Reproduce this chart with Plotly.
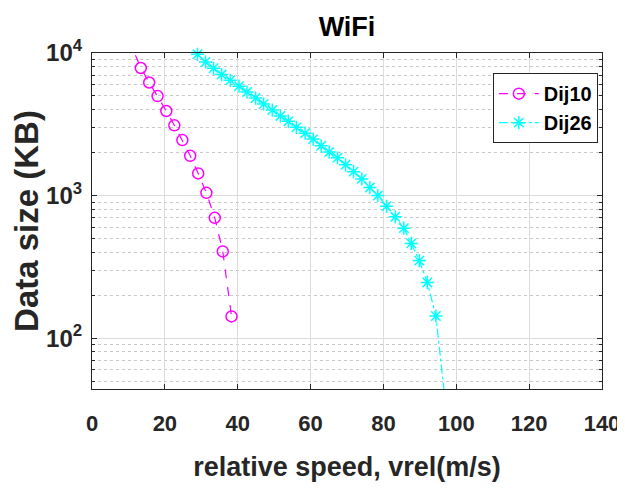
import plotly.graph_objects as go
import numpy as np

# Dij10 (magenta, dashed, circles)
dij10_speed = [10.0, 13.4, 15.7, 18.0, 20.4, 22.6, 24.8, 26.95, 29.15, 31.4, 33.7, 35.9, 38.3]
dij10_size = [12600, 7850, 6210, 4990, 3920, 3110, 2450, 1900, 1430, 1045, 698, 406, 142]

# Dij26 (cyan, dash-dot, stars)
dij26_speed = [28.96, 31.16, 33.36, 35.56, 37.95, 40.35, 42.55, 44.91, 47.11, 49.5,
               51.7, 53.9, 56.1, 58.5, 60.7, 62.9, 65.1, 67.4, 69.6, 71.8,
               74.06, 76.27, 78.46, 80.85, 83.25, 85.6, 87.65, 89.85, 92.05, 94.4, 96.6]
dij26_size = [9790, 8650, 7820, 7060, 6440, 5850, 5320, 4830, 4390, 3980,
              3620, 3320, 3010, 2740, 2490, 2235, 2020, 1842, 1644, 1472,
              1309, 1138, 1000, 842, 710, 591, 462, 350, 246, 143, 44]

x_ticks = [0, 20, 40, 60, 80, 100, 120, 140]
y_ticks = [100, 1000, 10000]
y_ticktext = ["10<sup>2</sup>", "10<sup>3</sup>", "10<sup>4</sup>"]

FONT = "Liberation Sans, Arial, sans-serif"

fig = go.Figure()
fig.add_trace(go.Scatter(
    x=dij10_speed, y=dij10_size, name="<b>Dij10</b>", mode="lines+markers",
    line=dict(color="#FF00FF", width=1.2, dash="dash"),
    marker=dict(symbol="circle-open", size=11, color="#FF00FF", line=dict(width=1.5)),
    cliponaxis=True,
))
fig.add_trace(go.Scatter(
    x=dij26_speed, y=dij26_size, name="<b>Dij26</b>", mode="lines+markers",
    line=dict(color="#00FFFF", width=1.2, dash="dashdot"),
    marker=dict(symbol="asterisk-open", size=11, color="#00FFFF", line=dict(width=1.5, color="#00FFFF")),
    cliponaxis=False,
))

fig.update_layout(
    width=625, height=490,
    margin=dict(l=84, r=31, t=45, b=109, autoexpand=False),
    paper_bgcolor="white", plot_bgcolor="white",
    font=dict(family=FONT, size=22, color="#262626"),
    title=dict(text="<b>WiFi</b>", x=0.5424, xanchor="center", y=0.962, yanchor="middle",
               font=dict(family=FONT, size=27, color="black")),
    showlegend=True,
    legend=dict(x=0.786, y=0.94, xanchor="left", yanchor="top",
                bgcolor="white", bordercolor="#262626", borderwidth=1,
                font=dict(family=FONT, size=20, color="black"),
                itemwidth=40, tracegroupgap=0),
)
fig.update_xaxes(
    range=[0, 140], tickvals=x_ticks, ticktext=[f"<b>{v}</b>" for v in x_ticks],
    showline=True, linecolor="#262626", linewidth=1.2, mirror="ticks",
    ticks="inside", ticklen=5, tickcolor="#262626", ticklabelstandoff=14,
    showgrid=True, gridcolor="#DCDCDC", gridwidth=1, zeroline=False, automargin=False,
    title=dict(text="<b>relative speed, vrel(m/s)</b>", font=dict(family=FONT, size=27, color="#262626"), standoff=22),
    tickfont=dict(family=FONT, size=22, color="#262626"),
)
fig.update_yaxes(
    type="log", range=[np.log10(44), 4], tickvals=y_ticks,
    ticktext=[f"<b>{t}</b>" for t in y_ticktext],
    showline=True, linecolor="#262626", linewidth=1.2, mirror="ticks",
    ticks="inside", ticklen=5, tickcolor="#262626", ticklabelstandoff=4,
    showgrid=True, gridcolor="#DCDCDC", gridwidth=1, zeroline=False, automargin=False,
    minor=dict(dtick="D1", ticks="inside", ticklen=3, tickcolor="#262626",
               showgrid=True, gridcolor="#C8C8C8", griddash="dot", gridwidth=1),
    title=dict(text="<b>Data size (KB)</b>", font=dict(family=FONT, size=33, color="#262626"), standoff=0),
    tickfont=dict(family=FONT, size=24, color="#262626"),
)

fig.write_html("out.html")
